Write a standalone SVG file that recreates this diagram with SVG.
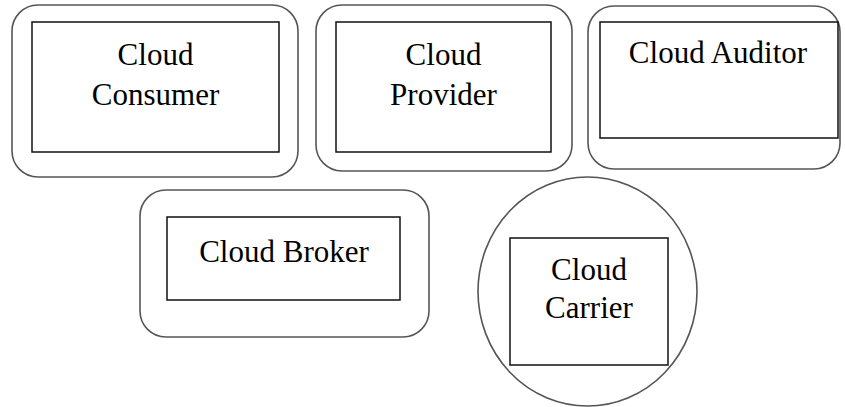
<svg xmlns="http://www.w3.org/2000/svg" width="845" height="407" viewBox="0 0 845 407">
<style>
.outer{fill:none;stroke:#555;stroke-width:1.6}
.inner{fill:none;stroke:#111;stroke-width:1.5}
text{font-family:"Liberation Serif","Times New Roman",serif;font-size:31px;fill:#000;text-anchor:middle}
</style>
<rect width="845" height="407" fill="#fff"/>
<g id="consumer">
<rect class="outer" x="12" y="5" width="286" height="172" rx="26"/>
<rect class="inner" x="32" y="22" width="247" height="130"/>
<text x="155.5" y="65">Cloud</text>
<text x="155.5" y="105">Consumer</text>
</g>
<g id="provider">
<rect class="outer" x="316" y="5" width="256" height="166" rx="26"/>
<rect class="inner" x="336" y="22" width="215" height="130"/>
<text x="443.5" y="65">Cloud</text>
<text x="443.5" y="105">Provider</text>
</g>
<g id="auditor">
<rect class="outer" x="588" y="6" width="252" height="163" rx="26"/>
<rect class="inner" x="600" y="22" width="238" height="116"/>
<text x="718" y="63">Cloud Auditor</text>
</g>
<g id="broker">
<rect class="outer" x="140" y="190" width="289" height="147" rx="26"/>
<rect class="inner" x="167" y="217" width="233" height="83"/>
<text x="284" y="262">Cloud Broker</text>
</g>
<g id="carrier">
<ellipse class="outer" cx="587.5" cy="291.5" rx="109.5" ry="114.5"/>
<rect class="inner" x="510" y="238" width="158" height="127"/>
<text x="589" y="280">Cloud</text>
<text x="589" y="318">Carrier</text>
</g>
<g id="connectors"></g>
</svg>
